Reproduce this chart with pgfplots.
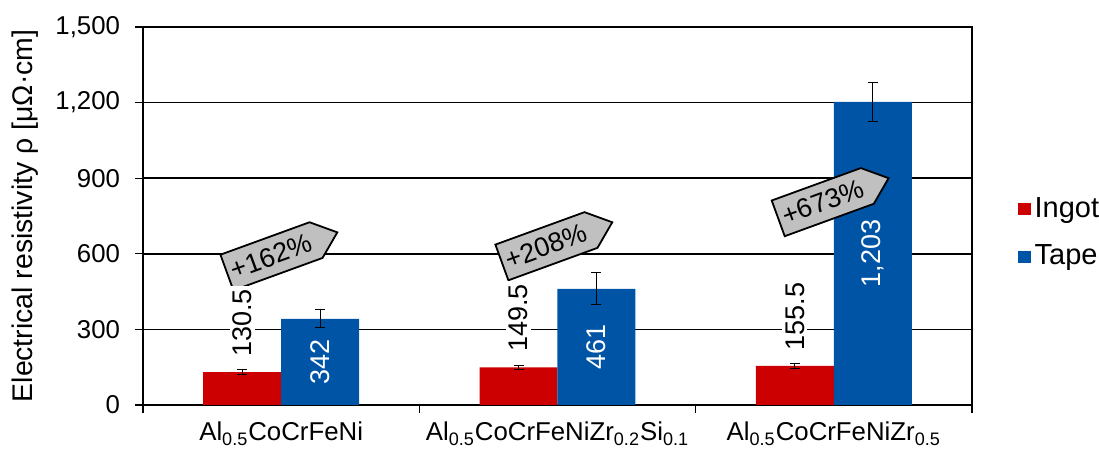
\documentclass[border=0pt]{standalone}
\usepackage{fontspec}
\setmainfont{Liberation Sans}
\usepackage{pgfplots}
\pgfplotsset{compat=1.18}
\usetikzlibrary{shapes.symbols}
\definecolor{ingot}{RGB}{204,0,0}
\definecolor{tape}{RGB}{0,84,166}
\definecolor{arrowgray}{RGB}{192,192,192}
\tikzset{pctarrow/.style={signal, draw=black, line width=0.9pt, fill=arrowgray, signal pointer angle=80, minimum height=19pt, inner xsep=2.5pt, inner ysep=1pt, font=\fontsize{13.5}{16}\selectfont, rotate=20}}
\begin{document}
\fontsize{12.9}{15}\selectfont
\begin{tikzpicture}
\begin{axis}[
  name=ax,
  scale only axis, width=414.5pt, height=189pt,
  xmin=-0.5, xmax=2.5, ymin=0, ymax=1500,
  ybar=0pt, bar width=0.282,
  axis line style={black, line width=1.1pt},
  ytick={0,300,...,1500},
  ymajorgrids, grid style={black, line width=0.8pt},
  ytick pos=left, xtick pos=bottom,
  tick align=outside, major tick length=4pt,
  tick style={black, line width=0.6pt},
  /pgf/number format/assume math mode=true,
  /pgf/number format/1000 sep={,},
  yticklabel style={xshift=-3pt},
  xtick={-0.5,0.5,1.5,2.5}, xticklabels={},
  extra x ticks={0,1,2},
  extra x tick labels={Al\textsubscript{0.5}CoCrFeNi, Al\textsubscript{0.5}CoCrFeNiZr\textsubscript{0.2}Si\textsubscript{0.1}, Al\textsubscript{0.5}CoCrFeNiZr\textsubscript{0.5}},
  extra x tick style={major tick length=0pt, xticklabel style={yshift=-4pt}},
  ylabel={Electrical resistivity ρ [μΩ·cm]},
  ylabel style={at={(axis description cs:-0.115,0.5)}, anchor=south, font=\fontsize{14.2}{16}\selectfont},
  legend style={at={(1.05,0.455)}, anchor=west, draw=none, fill=none, row sep=8pt, inner sep=2pt, font=\fontsize{14.5}{17}\selectfont},
  legend cell align=left,
  legend image code/.code={\fill[#1] (0pt,-3.2pt) rectangle (6.4pt,3.2pt);},
]
\addplot[fill=ingot, draw=none, bar shift=-0.141,
  nodes near coords,
  every node near coord/.append style={black, fill=white, inner sep=1.5pt, font=\fontsize{13.5}{16}\selectfont, yshift=6pt, rotate=90, anchor=west},
  error bars/.cd, y dir=both, y explicit,
  error bar style={black, line width=0.5pt},
  error mark options={rotate=90, mark size=2.5pt, black, line width=0.5pt}]
coordinates {(0,130.5) +- (0,9) (1,149.5) +- (0,8) (2,155.5) +- (0,10)};
\addplot[fill=tape, draw=none, bar shift=0.141,
  visualization depends on={rawy \as \rawy},
  nodes near coords,
  every node near coord/.append style={white, font=\fontsize{13.5}{16}\selectfont, yshift={-0.063pt*\rawy}, rotate=90, anchor=center},
  error bars/.cd, y dir=both, y explicit,
  error bar style={black, line width=0.5pt},
  error mark options={rotate=90, mark size=2.5pt, black, line width=0.5pt}]
coordinates {(0,342) +- (0,35) (1,461) +- (0,63) (2,1203) +- (0,78)};
\legend{Ingot, Tape}
\node[pctarrow] at (axis cs:-0.035,590) {+162\%};
\node[pctarrow] at (axis cs:0.96,630) {+208\%};
\node[pctarrow] at (axis cs:1.96,805) {+673\%};
\end{axis}
\pgfresetboundingbox
\path[use as bounding box] (-71.5pt,-24.5pt) rectangle (478pt,202.5pt);
\end{tikzpicture}
\end{document}
